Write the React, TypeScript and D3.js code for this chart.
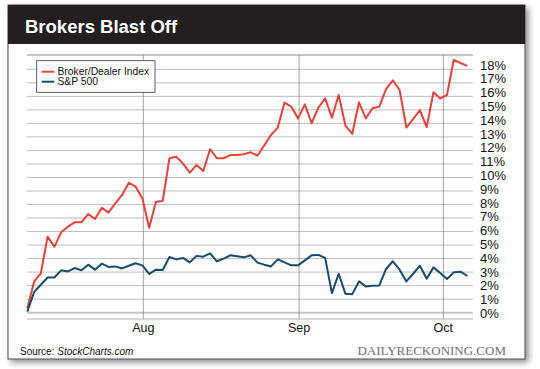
import * as d3 from 'd3'

const W = 540
const H = 369

// daily % change since start (mid-July through early October)
const brokerDealer = [
  0.33, 2.29, 2.91, 5.62, 4.87, 5.94, 6.36, 6.68, 6.68, 7.3, 6.93, 7.76, 7.4, 8.09, 8.71, 9.61,
  9.32, 8.46, 6.28, 8.21, 8.26, 11.42, 11.54, 11.03, 10.36, 10.92, 10.48, 12.09, 11.42, 11.42,
  11.66, 11.66, 11.72, 11.86, 11.61, 12.36, 13.14, 13.69, 15.54, 15.24, 14.37, 15.41, 14.01,
  15.16, 15.85, 14.42, 16.1, 13.83, 13.22, 15.56, 14.37, 15.12, 15.24, 16.54, 17.19, 16.47,
  13.69, 14.32, 14.99, 13.72, 16.3, 15.85, 16.1, 18.69, 18.47, 18.25
]
const sp500 = [
  0.07, 1.52, 2.06, 2.6, 2.6, 3.13, 3.05, 3.3, 3.13, 3.55, 3.18, 3.62, 3.38, 3.42, 3.27, 3.47,
  3.65, 3.5, 2.86, 3.18, 3.15, 4.12, 3.94, 4.05, 3.72, 4.2, 4.14, 4.39, 3.8, 4.0, 4.24, 4.17,
  4.09, 4.24, 3.7, 3.55, 3.42, 3.94, 3.72, 3.5, 3.5, 3.87, 4.24, 4.27, 4.05, 1.44, 2.88, 1.39,
  1.37, 2.31, 1.94, 1.99, 2.01, 3.23, 3.8, 3.18, 2.31, 2.88, 3.47, 2.51, 3.35, 2.93, 2.49, 2.98,
  3.03, 2.71
]
const monthLabels = ['Aug', 'Sep', 'Oct']
const monthIndex = [17.14, 40.15, 61.46] // first trading day position
const yTicks = d3.range(0, 19)

const series = [
  { name: 'Broker/Dealer Index', values: brokerDealer, color: '#e4423a' },
  { name: 'S&P 500', values: sp500, color: '#174a6b' }
]

export default function App() {
  const plot = { left: 27, right: 473, top: 55, bottom: 319 }

  const x = d3.scaleLinear().domain([0, brokerDealer.length - 1]).range([27.3, 467.3])
  const y = d3.scaleLinear().domain([-0.47, 19.06]).range([plot.bottom, plot.top])
  // tick labels drift slightly from the grid in the original
  const yLabel = d3.scaleLinear().domain([0, 18]).range([313.3, 65])

  const line = d3.line<number>()
    .x((_, i) => x(i))
    .y(d => y(d))

  return (
    <svg width={W} height={H} style={{ position: 'absolute', left: 0, top: 0, background: '#fff' }}
      fontFamily="'Liberation Sans', Arial, sans-serif">
      <defs>
        <filter id="shadow" x="-5%" y="-5%" width="115%" height="115%">
          <feDropShadow dx="3" dy="3" stdDeviation="3" floodColor="#000" floodOpacity="0.45" />
        </filter>
      </defs>

      {/* card */}
      <rect x={8} y={5} width={517} height={354} fill="#fff" stroke="#4a4a4a" strokeWidth={1} filter="url(#shadow)" />
      <rect x={8} y={5} width={517} height={39} fill="#231f20" />
      <text x={25} y={33} fill="#fff" fontSize={18.5} fontWeight="bold">Brokers Blast Off</text>

      {/* horizontal grid */}
      {yTicks.map(t => (
        <line key={t} x1={plot.left} x2={plot.right} y1={y(t)} y2={y(t)}
          stroke={t === 0 ? '#c4c4c4' : '#bdbdbd'} strokeWidth={t === 0 ? 2 : 1} />
      ))}
      <line x1={plot.left} x2={plot.right} y1={plot.top} y2={plot.top} stroke="#c4c4c4" strokeWidth={2} />
      <line x1={plot.left} x2={plot.right} y1={plot.bottom} y2={plot.bottom} stroke="#b0b0b0" strokeWidth={1} />

      {/* month grid */}
      {monthIndex.map((m, i) => (
        <g key={monthLabels[i]}>
          <line x1={x(m)} x2={x(m)} y1={plot.top} y2={plot.bottom} stroke="#8c8c8c" strokeWidth={0.8} />
          <text x={x(m)} y={332} textAnchor="middle" fontSize={12.5} fill="#111">{monthLabels[i]}</text>
        </g>
      ))}

      {/* y labels */}
      {yTicks.map(t => (
        <text key={t} x={480} y={yLabel(t)} dy="0.36em" fontSize={13} fill="#111">{t}%</text>
      ))}

      {/* series */}
      {series.map(s => (
        <path key={s.name} d={line(s.values) || ''} fill="none" stroke={s.color}
          strokeWidth={2} strokeLinejoin="round" />
      ))}

      {/* legend */}
      <rect x={36.7} y={60.7} width={118.3} height={31.6} fill="#fff" stroke="#333" strokeWidth={0.8} />
      {series.map((s, i) => (
        <g key={s.name} transform={`translate(0, ${71.7 + i * 10})`}>
          <line x1={41.7} x2={54.3} y1={0} y2={0} stroke={s.color} strokeWidth={2} />
          <text x={57.5} y={0} dy="0.36em" fontSize={10.3} fill="#111">{s.name}</text>
        </g>
      ))}

      {/* footer */}
      <text x={20} y={354.5} fontSize={10} fill="#111">
        Source: <tspan fontStyle="italic">StockCharts.com</tspan>
      </text>
      <text x={506} y={355} textAnchor="end" fontSize={13} fill="#707070"
        fontFamily="'Liberation Serif', 'Times New Roman', serif">DAILYRECKONING.COM</text>
    </svg>
  )
}
